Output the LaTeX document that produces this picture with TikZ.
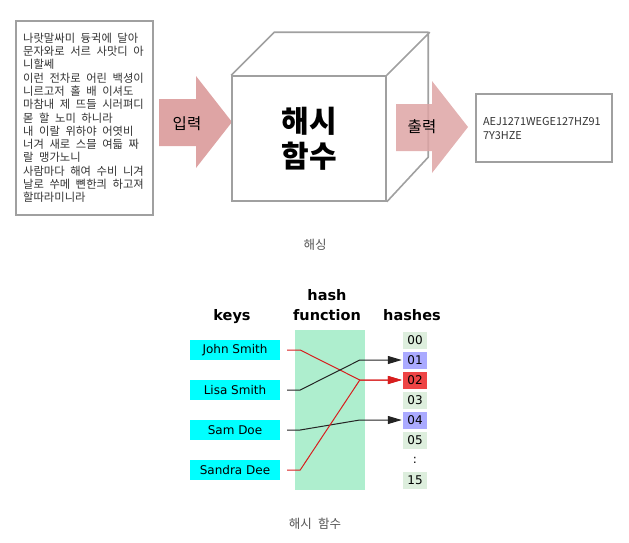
\documentclass[tikz,border=0pt]{standalone}
\usepackage{fontspec}
\setmainfont{DejaVu Sans}
\newfontfamily\kr{Noto Sans CJK KR}
\newfontfamily\krwide{Noto Sans CJK KR}[WordSpace=2.2]
\usetikzlibrary{arrows.meta}
\definecolor{boxgray}{RGB}{160,160,160}
\definecolor{arrowpink}{RGB}{222,164,164}
\definecolor{keycyan}{RGB}{0,255,255}
\definecolor{fnband}{RGB}{174,238,206}
\definecolor{cellfree}{RGB}{221,238,221}
\definecolor{cellused}{RGB}{170,170,255}
\definecolor{cellhit}{RGB}{238,68,68}
\definecolor{linkred}{RGB}{215,30,30}
\definecolor{linkblack}{RGB}{35,35,35}
\definecolor{captiongray}{RGB}{85,85,85}
\definecolor{textgray}{RGB}{51,51,51}
\tikzset{
  framebox/.style={draw=boxgray, line width=1.6pt, fill=white, inner sep=0},
  keybox/.style={fill=keycyan, minimum width=90, minimum height=20, inner sep=0, font=\fontsize{12}{14}\selectfont},
  cell/.style={minimum width=24, minimum height=17, inner sep=0, font=\fontsize{12}{14}\selectfont},
  header/.style={font=\fontsize{14.5}{17}\selectfont\bfseries, anchor=base},
  caption/.style={font=\kr\fontsize{12.5}{14}\selectfont, text=captiongray},
  link/.style={line width=1pt, -{Triangle[length=14pt,width=8pt]}, shorten >=1pt},
}
\begin{document}
\begin{tikzpicture}[x=1pt, y=-1pt]
\useasboundingbox (0,0) rectangle (629,542);

% plain text
\node[framebox, anchor=north west, minimum width=137, minimum height=194] (plain) at (15,20) {};
\node[anchor=west, inner sep=0, align=left, text=textgray, font=\krwide\fontsize{11.3}{13.3}\selectfont] (plaintext) at ([xshift=8]plain.west) {나랏말싸미 듕귁에 달아\\문자와로 서르 사맛디 아\\니할쎄\\이런 전차로 어린 백셩이\\니르고저 홀 배 이셔도\\마참내 제 뜨들 시러펴디\\몯 할 노미 하니라\\내 이랄 위하야 어엿비\\너겨 새로 스믈 여듧 짜\\랄 맹가노니\\사람마다 해여 수비 니겨\\날로 쑤메 뼌한킈 하고져\\할따라미니라};

% input arrow
\fill[arrowpink] (159,99) -- (196,99) -- (196,76) -- (232,122) -- (196,168) -- (196,146) -- (159,146) -- cycle;
\node[font=\kr\fontsize{15.5}{18}\selectfont] (inlabel) at (187,124) {입력};

% cube
\node[framebox, minimum width=154, minimum height=125, align=center, font=\kr\bfseries\fontsize{30}{35}\selectfont] (func) at (309,138.5) {해시\\함수};
\draw[boxgray, line width=1.6pt, line join=round] (func.north west) -- ++(43,-43) -- ++(154,0) -- ++(0,125) -- (func.south east) (func.north east) -- ++(43,-43);

% output arrow
\fill[arrowpink, fill opacity=0.85] (396,104) -- (432,104) -- (432,81) -- (468,127) -- (432,173) -- (432,151) -- (396,151) -- cycle;
\node[font=\kr\fontsize{15.5}{18}\selectfont] (outlabel) at (422,127) {출력};

% digest
\node[framebox, minimum width=136, minimum height=68, text width=122, inner xsep=7, align=left, text=textgray, font=\kr\fontsize{10.9}{14}\selectfont] (digest) at (544,128) {AEJ1271WEGE127HZ91\\7Y3HZE};

\node[caption] (cap1) at (315,245) {해싱};

% hash table
\node[fill=fnband, minimum width=70, minimum height=160, inner sep=0] (band) at (330,410) {};
\node[header] (keyshead) at (232,320) {keys};
\node[header] (fnhead) at (327,300) {hash};
\node[header] (fnhead2) at (327,320) {function};
\node[header] (hashhead) at (412,320) {hashes};

\node[keybox] (john) at (235,350) {John Smith};
\node[keybox] (lisa) at (235,390) {Lisa Smith};
\node[keybox] (sam) at (235,430) {Sam Doe};
\node[keybox] (sandra) at (235,470) {Sandra Dee};

\foreach \n/\c [count=\i from 0] in {00/cellfree,01/cellused,02/cellhit,03/cellfree,04/cellused,05/cellfree}
  \node[cell, fill=\c] (h\n) at (415,340+20*\i) {\n};
\node[cell] (hdots) at (415,460) {:};
\node[cell, fill=cellfree] (h15) at (415,480) {15};

\draw[link, linkred] ([xshift=7]john.east) -- ++(13,0) -- ([xshift=-43]h02.west) -- (h02.west);
\draw[link, linkblack] ([xshift=7]lisa.east) -- ++(13,0) -- ([xshift=-43]h01.west) -- (h01.west);
\draw[link, linkblack] ([xshift=7]sam.east) -- ++(13,0) -- ([xshift=-43]h04.west) -- (h04.west);
\draw[link, linkred] ([xshift=7]sandra.east) -- ++(13,0) -- ([xshift=-43]h02.west) -- (h02.west);

\node[caption] (cap2) at (315,524) {해시 함수};
\end{tikzpicture}
\end{document}
